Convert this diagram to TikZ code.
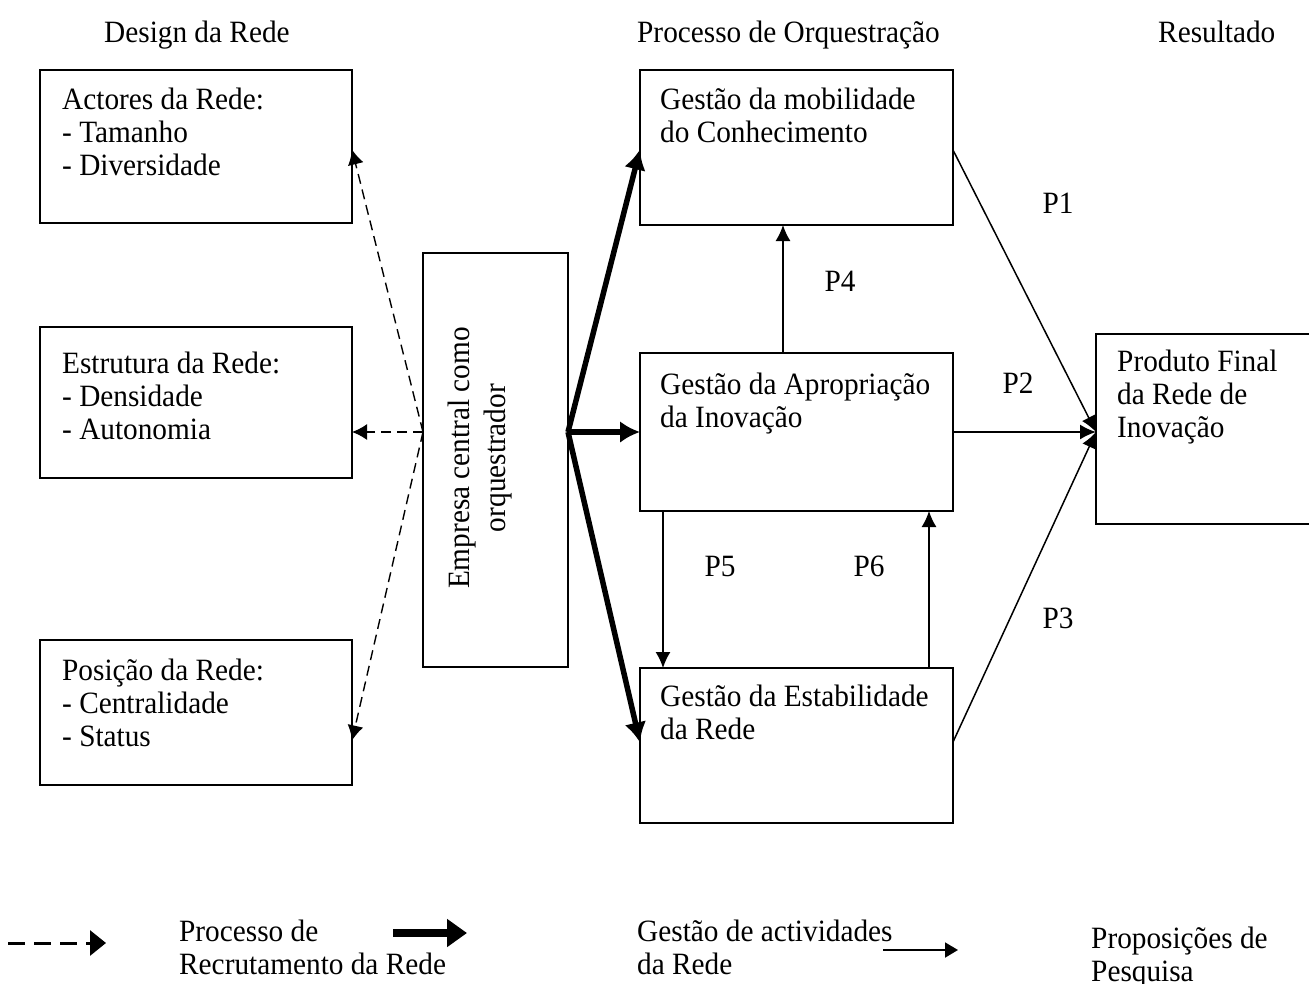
\documentclass[tikz,border=0pt]{standalone}
\usepackage{fontspec}
\setmainfont{Liberation Serif}[FakeStretch=0.945]
\usetikzlibrary{arrows.meta}

\tikzset{
  box/.style={draw, line width=1.8pt, inner sep=0pt, outer sep=0pt},
  % multi-line texts: the base anchor sits on the last line
  txt/.style={anchor=base west, align=left, inner sep=0pt},
  lbl/.style={inner sep=0pt},
  recruit/.style={line width=1.4pt, dash pattern=on 10pt off 6pt,
    -{Latex[length=15pt,width=16pt]}},
  activity/.style={line width=5.5pt, -{Latex[length=20pt,width=22pt]}},
  prop/.style={line width=1.5pt, -{Latex[length=16pt,width=15pt]}}
}

\begin{document}
\begin{tikzpicture}[x=1pt, y=-1pt, font=\fontsize{31}{33}\selectfont]
\useasboundingbox (0,0) rectangle (1309,983);

% column headers
\node[txt] (h1) at (104,42) {Design da Rede};
\node[txt] (h2) at (637,42) {Processo de Orquestração};
\node[txt] (h3) at (1158,42) {Resultado};

% network design boxes
\node[box, minimum width=312pt, minimum height=153pt] (act) at (196,146.5) {};
\node[txt] (actT) at (62,175) {Actores da Rede:\\- Tamanho\\- Diversidade};

\node[box, minimum width=312pt, minimum height=151pt] (est) at (196,402.5) {};
\node[txt] (estT) at (62,439) {Estrutura da Rede:\\- Densidade\\- Autonomia};

\node[box, minimum width=312pt, minimum height=145pt] (pos) at (196,712.5) {};
\node[txt] (posT) at (62,746) {Posição da Rede:\\- Centralidade\\- Status};

% central firm
\node[box, minimum width=145pt, minimum height=414pt] (emp) at (495.5,460) {};
\node[lbl, rotate=90, align=center, font=\fontsize{31}{36}\selectfont] (empT) at (480,458)
  {Empresa central como\\orquestrador};

% orchestration process boxes
\node[box, minimum width=313pt, minimum height=155pt] (mob) at (796.5,147.5) {};
\node[txt] (mobT) at (660,142) {Gestão da mobilidade\\do Conhecimento};

\node[box, minimum width=313pt, minimum height=158pt] (apr) at (796.5,432) {};
\node[txt] (aprT) at (660,427) {Gestão da Apropriação\\da Inovação};

\node[box, minimum width=313pt, minimum height=155pt] (stab) at (796.5,745.5) {};
\node[txt] (stabT) at (660,739) {Gestão da Estabilidade\\da Rede};

% outcome
\node[box, minimum width=226pt, minimum height=190pt] (prod) at (1209,429) {};
\node[txt] (prodT) at (1117,437) {Produto Final\\da Rede de\\Inovação};

% junction points
\coordinate (hubL) at (emp.west |- apr.center);
\coordinate (hubR) at (emp.east |- apr.center);
\coordinate (pin) at (prod.west |- apr.center);
\coordinate (c4) at (783,0);
\coordinate (c5) at (663,0);
\coordinate (c6) at (929,0);

% recruitment (dashed)
\draw[recruit] (hubL) -- ([yshift=-3pt]act.east);
\draw[recruit] (hubL) -- (est.east |- hubL);
\draw[recruit] (hubL) -- ([yshift=-28pt]pos.east);

% activity management (thick)
\draw[activity] (hubR) -- ([yshift=-2pt]mob.west);
\draw[activity] (hubR) -- (apr.west);
\draw[activity] (hubR) -- ([yshift=3pt]stab.west);

% propositions
\draw[prop] (apr.north -| c4) -- (mob.south -| c4);
\draw[prop] (apr.south -| c5) -- (stab.north -| c5);
\draw[prop] (stab.north -| c6) -- (apr.south -| c6);
\draw[prop] ([yshift=-2.5pt]mob.east) -- (pin);
\draw[prop] (apr.east) -- (pin);
\draw[prop] ([yshift=3.5pt]stab.east) -- (pin);

\node[lbl] (p1) at (1058,203) {P1};
\node[lbl] (p2) at (1018,383) {P2};
\node[lbl] (p3) at (1058,618) {P3};
\node[lbl] (p4) at (840,281) {P4};
\node[lbl] (p5) at (720,566) {P5};
\node[lbl] (p6) at (869,566) {P6};

% legend
\coordinate (l1a) at (8,943);   \coordinate (l1b) at (106,943);
\coordinate (l2a) at (393,933); \coordinate (l2b) at (467,933);
\coordinate (l3a) at (883,950); \coordinate (l3b) at (958,950);
\draw[line width=3pt, dash pattern=on 17pt off 9pt,
  -{Triangle[length=16pt,width=25pt]}] (l1a) -- (l1b);
\draw[line width=8pt, -{Triangle[length=20pt,width=27pt]}] (l2a) -- (l2b);
\draw[line width=1.8pt, -{Triangle[length=13pt,width=15pt]}] (l3a) -- (l3b);
\node[txt] (lt1) at (179,974) {Processo de\\Recrutamento da Rede};
\node[txt] (lt2) at (637,974) {Gestão de actividades\\da Rede};
\node[txt] (lt3) at (1091,981) {Proposições de\\Pesquisa};
\end{tikzpicture}
\end{document}
